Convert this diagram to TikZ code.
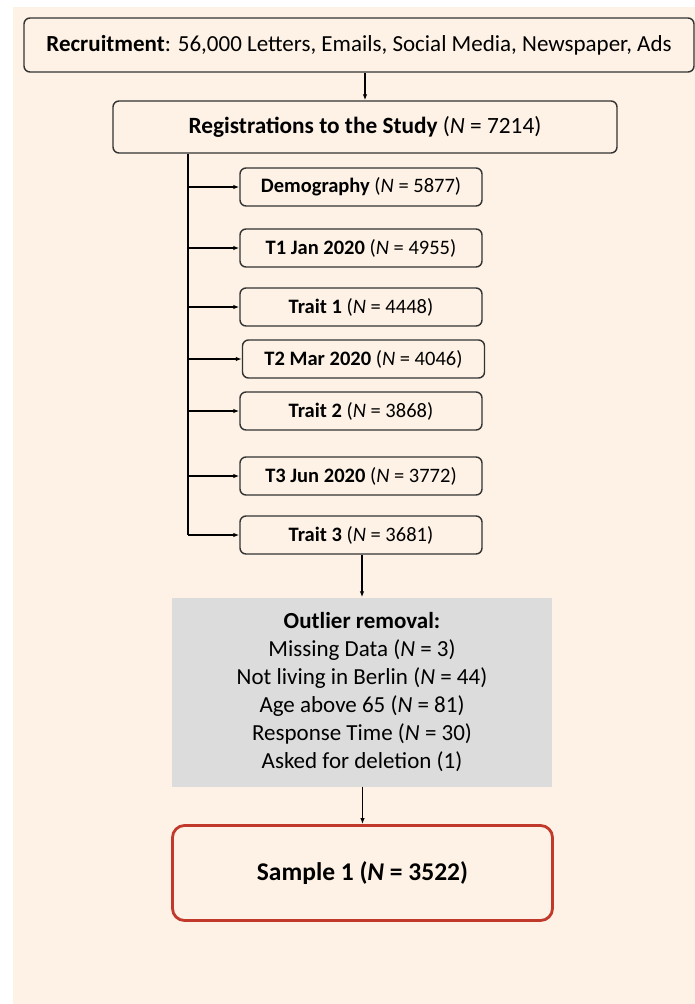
\documentclass[tikz,border=0pt]{standalone}
\usepackage{fontspec}
\setmainfont{Carlito}
\usetikzlibrary{arrows.meta,positioning}
\definecolor{peach}{HTML}{FDF2E5}
\definecolor{greyfill}{HTML}{DCDCDC}
\definecolor{redline}{HTML}{C0392B}
\newcommand{\nN}{\textit{N}}

\begin{document}
\begin{tikzpicture}[x=1pt, y=-1pt, >={Latex[length=6pt,width=4.5pt]},
  every node/.style={align=center, inner sep=0pt},
  box/.style={draw=black!80, line width=1.4pt, rounded corners=6pt, font=\fontsize{20.5}{24}\selectfont},
  wave/.style={box, minimum width=242pt, minimum height=38pt},
  greybox/.style={fill=greyfill, minimum width=380pt, minimum height=189pt, font=\fontsize{23}{28}\selectfont},
  finalbox/.style={draw=redline, line width=2.8pt, rounded corners=12pt, minimum width=380pt, minimum height=95pt, font=\fontsize{25.5}{30}\selectfont},
  link/.style={line width=1.2pt}]
\useasboundingbox (0,0) rectangle (695,1004);
\fill[peach] (13,7) rectangle (695,1004);
\node[box, minimum width=670pt, minimum height=54pt, font=\fontsize{23}{27}\selectfont] (recruit) at (359,45)
  {\textbf{Recruitment}: 56,000 Letters, Emails, Social Media, Newspaper, Ads};
\node[box, minimum width=504pt, minimum height=52pt, font=\fontsize{23.3}{27}\selectfont] (reg) at (365,127)
  {\textbf{Registrations to the Study} (\nN{} = 7214)};
\node[wave] (demo) at (361,187) {\textbf{Demography} (\nN{} = 5877)};
\node[wave] (t1) at (361,248) {\textbf{T1 Jan 2020} (\nN{} = 4955)};
\node[wave] (trait1) at (361,307) {\textbf{Trait 1} (\nN{} = 4448)};
\node[wave] (t2) at (363.5,359) {\textbf{T2 Mar 2020} (\nN{} = 4046)};
\node[wave] (trait2) at (361,411) {\textbf{Trait 2} (\nN{} = 3868)};
\node[wave] (t3) at (361,476) {\textbf{T3 Jun 2020} (\nN{} = 3772)};
\node[wave] (trait3) at (361,535) {\textbf{Trait 3} (\nN{} = 3681)};
\node[greybox] (outlier) at (362,692) {\textbf{Outlier removal:}\\Missing Data (\nN{} = 3)\\Not living in Berlin (\nN{} = 44)\\Age above 65 (\nN{} = 81)\\Response Time (\nN{} = 30)\\Asked for deletion (1)};
\node[finalbox] (sample) at (362.5,873) {\textbf{Sample 1 (\nN{} = 3522)}};
\coordinate (spine) at (188,0);
\draw[->, link] (recruit.south -| reg.north) -- (reg.north);
\draw[link] (reg.south -| spine) -- (spine |- trait3);
\foreach \w in {demo,t1,trait1,t2,trait2,t3,trait3}
  \draw[->, link] (spine |- \w) -- (\w.west);
\draw[->, link] (trait3.south -| outlier.north) -- (outlier.north);
\draw[->, link] (outlier.south -| sample.north) -- (sample.north);
\end{tikzpicture}
\end{document}
